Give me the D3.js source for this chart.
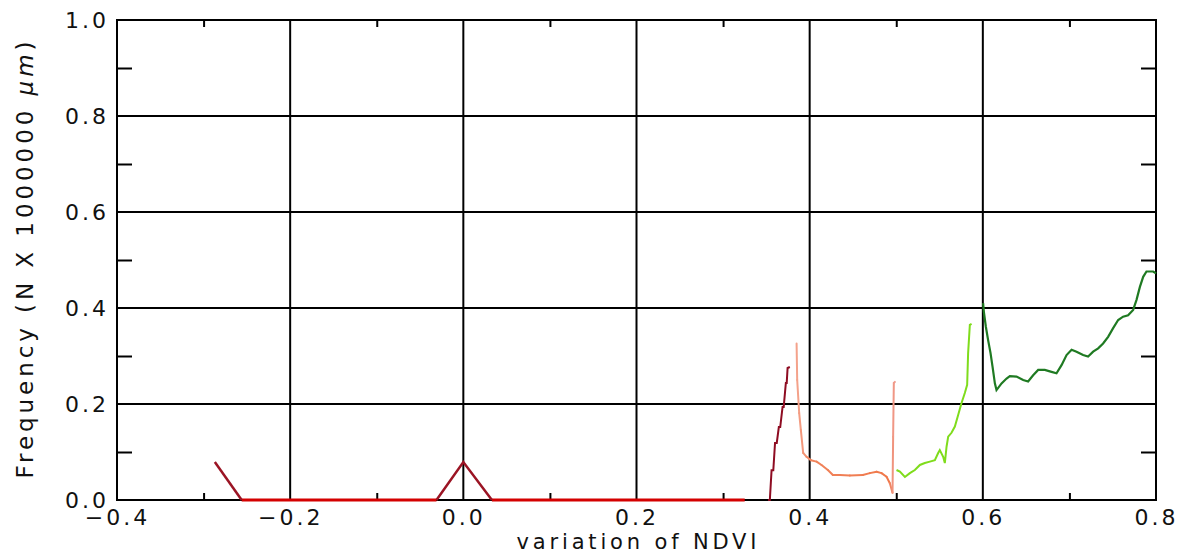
<!DOCTYPE html>
<html>
<head>
<meta charset="utf-8">
<script src="https://cdn.jsdelivr.net/npm/d3@7"></script>
<style>
  body { margin: 0; background: #fff; }
  text { font-family: "DejaVu Sans", sans-serif; fill: #111; }
</style>
</head>
<body>
<script>
 // tick values and labels
 const xTicks = [-0.4, -0.2, 0.0, 0.2, 0.4, 0.6, 0.8]
 const xTickLabels = ['\u22120.4', '\u22120.2', '0.0', '0.2', '0.4', '0.6', '0.8']
 const xMinor = [-0.3, -0.1, 0.1, 0.3, 0.5, 0.7]
 const yTicks = [0.0, 0.2, 0.4, 0.6, 0.8, 1.0]
 const yTickLabels = ['0.0', '0.2', '0.4', '0.6', '0.8', '1.0']
 const yMinor = [0.1, 0.3, 0.5, 0.7, 0.9]

 // histogram pieces [NDVI variation, frequency]
 const redLeft = [[-0.287, 0.079], [-0.256, 0.0]]
 const redFlatA = [[-0.256, 0.0], [-0.031, 0.0]]
 const redPeak = [[-0.031, 0.0], [0.0, 0.079], [0.033, 0.0]]
 const redFlatB = [[0.033, 0.0], [0.325, 0.0]]
 const redRise = [
    [0.352, 0.0], [0.354, 0.0], [0.356, 0.062], [0.358, 0.062], [0.360, 0.119],
    [0.362, 0.119], [0.3644, 0.152], [0.366, 0.152], [0.3687, 0.194], [0.370, 0.194],
    [0.3725, 0.244], [0.3735, 0.244], [0.3745, 0.275], [0.3771, 0.277]
 ]
 const salmon = [
    [0.3849, 0.326], [0.3856, 0.25], [0.3879, 0.181], [0.3898, 0.146], [0.3925, 0.098],
    [0.3964, 0.090], [0.4014, 0.083], [0.408, 0.080], [0.4137, 0.073], [0.421, 0.0625],
    [0.4268, 0.052], [0.4349, 0.052], [0.4464, 0.051], [0.4614, 0.052], [0.4695, 0.056],
    [0.4773, 0.059], [0.483, 0.056], [0.4888, 0.0485], [0.4926, 0.035], [0.4957, 0.015],
    [0.4964, 0.132], [0.4972, 0.244], [0.4984, 0.246]
 ]
 const lightGreen = [
    [0.5003, 0.0625], [0.5042, 0.059], [0.510, 0.048], [0.5157, 0.056], [0.5215, 0.0625],
    [0.5273, 0.073], [0.533, 0.077], [0.5388, 0.080], [0.5446, 0.083], [0.5484, 0.098],
    [0.5503, 0.104], [0.5542, 0.090], [0.5561, 0.077], [0.5581, 0.111], [0.560, 0.132],
    [0.5638, 0.140], [0.5677, 0.153], [0.5715, 0.177], [0.5754, 0.202], [0.5792, 0.223],
    [0.5819, 0.240], [0.583, 0.306], [0.585, 0.365], [0.587, 0.367]
 ]
 const darkGreen = [
    [0.6003, 0.410], [0.6012, 0.392], [0.6035, 0.361], [0.6061, 0.333], [0.6089, 0.306],
    [0.6112, 0.278], [0.6139, 0.243], [0.6158, 0.229], [0.6216, 0.243], [0.6274, 0.253],
    [0.6312, 0.258], [0.6389, 0.257], [0.6466, 0.250], [0.6523, 0.247], [0.6581, 0.260],
    [0.6639, 0.271], [0.6716, 0.271], [0.6793, 0.267], [0.6851, 0.264], [0.6909, 0.281],
    [0.6967, 0.302], [0.7025, 0.313], [0.7082, 0.309], [0.7158, 0.302], [0.7216, 0.299],
    [0.7274, 0.309], [0.7332, 0.316], [0.7389, 0.326], [0.7447, 0.340], [0.7505, 0.358],
    [0.7563, 0.375], [0.7620, 0.382], [0.7678, 0.385], [0.7736, 0.396], [0.7775, 0.417],
    [0.7814, 0.444], [0.7852, 0.465], [0.789, 0.476], [0.7967, 0.476], [0.80, 0.472]
 ]

 // constants
 const width = 1189
 const height = 553
 const plot = { left: 117, right: 1156, top: 20, bottom: 500 }

 const svg = d3.select('body').append('svg')
       .attr('width', width).attr('height', height)

 const xScale = d3.scaleLinear().domain([-0.4, 0.8]).range([plot.left, plot.right])
 const yScale = d3.scaleLinear().domain([0, 1]).range([plot.bottom, plot.top])

 // grid lines on the major ticks
 svg.append('g').selectAll('line').data(xTicks.slice(1, -1)).enter().append('line')
    .attr('x1', (d)=>xScale(d)).attr('x2', (d)=>xScale(d))
    .attr('y1', plot.top).attr('y2', plot.bottom)
    .style('stroke', '#000').style('stroke-width', 2)
 svg.append('g').selectAll('line').data(yTicks.slice(1, -1)).enter().append('line')
    .attr('y1', (d)=>yScale(d)).attr('y2', (d)=>yScale(d))
    .attr('x1', plot.left).attr('x2', plot.right)
    .style('stroke', '#000').style('stroke-width', 2)

 // minor ticks on all four sides
 const minor = (g)=>{ g.select('.domain').remove(); g.selectAll('line').style('stroke', '#000').style('stroke-width', 2) }
 svg.append('g').attr('transform', `translate(0,${plot.bottom})`)
    .call(d3.axisBottom(xScale).tickValues(xMinor).tickSize(-7).tickFormat('')).call(minor)
 svg.append('g').attr('transform', `translate(0,${plot.top})`)
    .call(d3.axisTop(xScale).tickValues(xMinor).tickSize(-7).tickFormat('')).call(minor)
 svg.append('g').attr('transform', `translate(${plot.left},0)`)
    .call(d3.axisLeft(yScale).tickValues(yMinor).tickSize(-15).tickFormat('')).call(minor)
 svg.append('g').attr('transform', `translate(${plot.right},0)`)
    .call(d3.axisRight(yScale).tickValues(yMinor).tickSize(-15).tickFormat('')).call(minor)

 // frame
 svg.append('rect').attr('x', plot.left).attr('y', plot.top)
    .attr('width', plot.right - plot.left).attr('height', plot.bottom - plot.top)
    .style('fill', 'none').style('stroke', '#000').style('stroke-width', 2)

 // tick labels
 const labels = (g)=>{ g.select('.domain').remove()
    g.selectAll('text').style('font-size', '22px').style('letter-spacing', '3px')
     .style('font-family', '"DejaVu Sans", sans-serif').style('fill', '#111') }
 svg.append('g').attr('transform', `translate(0,${plot.bottom})`)
    .call(d3.axisBottom(xScale).tickValues(xTicks).tickSize(0).tickPadding(9)
       .tickFormat((d, i)=>xTickLabels[i])).call(labels)
 svg.append('g').attr('transform', `translate(${plot.left},0)`)
    .call(d3.axisLeft(yScale).tickValues(yTicks).tickSize(0).tickPadding(8)
       .tickFormat((d, i)=>yTickLabels[i])).call(labels)

 // axis titles
 svg.append('text').attr('x', (plot.left + plot.right) / 2).attr('y', 549)
    .attr('text-anchor', 'middle').attr('textLength', 240).attr('lengthAdjust', 'spacing')
    .style('font-size', '21px').text('variation of NDVI')
 const yTitle = svg.append('text').attr('transform', `translate(33,${(plot.top + plot.bottom) / 2}) rotate(-90)`)
    .attr('text-anchor', 'middle').attr('textLength', 437).attr('lengthAdjust', 'spacing')
    .style('font-size', '23px')
 yTitle.append('tspan').text('Frequency (N X 1000000 ')
 yTitle.append('tspan').style('font-style', 'italic').text('\u03bcm')
 yTitle.append('tspan').text(')')

 // histogram lines
 const line = d3.line().x((d)=>xScale(d[0])).y((d)=>yScale(d[1]))
 const series = [
    { data: redFlatA, color: '#d40000', w: 3 },
    { data: redFlatB, color: '#d40000', w: 3 },
    { data: redLeft, color: '#9b1424', w: 2.5 },
    { data: redPeak, color: '#9b1424', w: 2.5 },
    { data: redRise, color: '#8e0c22', w: 2 },
    { data: lightGreen, color: '#7fdc1c', w: 2 },
    { data: darkGreen, color: '#1f7a22', w: 2.2 }
 ]
 svg.append('g').selectAll('path').data(series).enter().append('path')
    .attr('d', (d)=>line(d.data))
    .style('fill', 'none').style('stroke', (d)=>d.color).style('stroke-width', (d)=>d.w)

 // salmon piece changes tone along x, draw it segment by segment
 const salmonColor = d3.scaleLinear().domain([0.384, 0.40, 0.49, 0.497])
    .range(['#f4a48e', '#f0845c', '#f0784a', '#f09a8a'])
 svg.append('g').selectAll('line').data(d3.pairs(salmon)).enter().append('line')
    .attr('x1', (d)=>xScale(d[0][0])).attr('y1', (d)=>yScale(d[0][1]))
    .attr('x2', (d)=>xScale(d[1][0])).attr('y2', (d)=>yScale(d[1][1]))
    .style('stroke', (d)=>salmonColor(d[0][0])).style('stroke-width', 2)
    .style('stroke-linecap', 'round')
</script>
</body>
</html>
